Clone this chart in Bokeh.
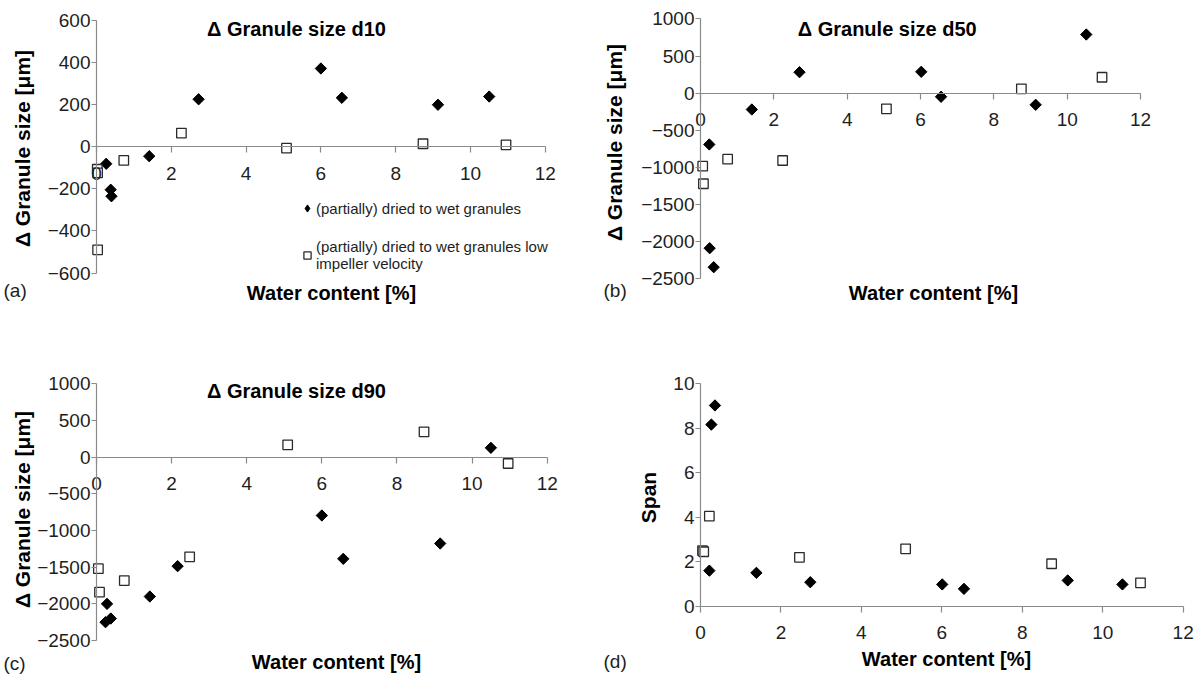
import math
from bokeh.plotting import figure
from bokeh.models import Range1d, FixedTicker, Label, Legend, LegendItem
from bokeh.layouts import column, row
from bokeh.embed import file_html
from bokeh.resources import INLINE

# ---------------- data ----------------
x_ticks = [0, 2, 4, 6, 8, 10, 12]

a_dia_x = [0.26, 0.38, 0.40, 1.41, 2.73, 6.0, 6.56, 9.13, 10.5]
a_dia_y = [-82, -205, -236, -46, 224, 370, 231, 198, 237]
a_sq_x = [0.02, 0.03, 0.03, 0.73, 2.27, 5.08, 8.73, 10.95]
a_sq_y = [-108, -125, -490, -66, 63, -8, 13, 8]

b_dia_x = [0.24, 0.25, 0.36, 1.40, 2.70, 6.02, 6.56, 9.14, 10.52]
b_dia_y = [-690, -2086, -2342, -219, 283, 288, -48, -156, 790]
b_sq_x = [0.06, 0.08, 0.74, 2.24, 5.07, 8.75, 10.95]
b_sq_y = [-982, -1219, -888, -906, -210, 59, 215]

c_dia_x = [0.28, 0.24, 0.38, 1.42, 2.16, 6.0, 6.57, 9.15, 10.5]
c_dia_y = [-2000, -2250, -2200, -1900, -1486, -795, -1386, -1177, 128]
c_sq_x = [0.05, 0.08, 0.74, 2.48, 5.09, 8.72, 10.96]
c_sq_y = [-1520, -1841, -1682, -1359, 169, 346, -86]

d_dia_x = [0.36, 0.27, 0.22, 1.39, 2.73, 6.01, 6.55, 9.13, 10.49]
d_dia_y = [9.03, 8.17, 1.6, 1.5, 1.08, 0.98, 0.78, 1.16, 0.98]
d_sq_x = [0.22, 0.05, 0.08, 2.46, 5.10, 8.73, 10.94]
d_sq_y = [4.05, 2.5, 2.45, 2.2, 2.58, 1.91, 1.05]

legend_dia = "(partially) dried to wet granules"
legend_sq = "(partially) dried to wet granules low\nimpeller velocity"

FONT = "Liberation Sans"
AXIS_COL = "#8a8a8a"
TXT_COL = "#1e1e1e"


def make_panel(W, H, x0, xs, y0, ys, ymin, ymax, ystep,
               dia_x, dia_y, sq_x, sq_y, tag, tag_pos, title, title_pos,
               xlab_pos, ylab, ylab_pos, legend=None):
    # the frame fills the whole figure; data -> pixel mapping given by x0, xs, y0, ys
    xr = Range1d((0 - x0) / xs, (W - x0) / xs)
    yr = Range1d((y0 - H) / ys, (y0 - 0) / ys)
    p = figure(width=W, height=H, x_range=xr, y_range=yr,
               output_backend="svg", toolbar_location=None,
               min_border_left=0, min_border_right=0,
               min_border_top=0, min_border_bottom=0,
               title=None)
    p.outline_line_color = None
    p.xgrid.visible = False
    p.ygrid.visible = False
    p.background_fill_color = "white"
    p.border_fill_color = "white"

    def dx(px):
        return (px - x0) / xs

    def dy(py):
        return (y0 - py) / ys

    # axes crossing at the origin
    p.xaxis.fixed_location = 0
    p.yaxis.fixed_location = 0
    p.xaxis.bounds = (0, 12)
    p.yaxis.bounds = (ymin, ymax)
    p.xaxis.ticker = FixedTicker(ticks=x_ticks)
    yt = []
    v = ymin
    while v <= ymax + 1e-9:
        yt.append(v)
        v += ystep
    p.yaxis.ticker = FixedTicker(ticks=yt)
    for ax in (p.xaxis[0], p.yaxis[0]):
        ax.axis_line_color = AXIS_COL
        ax.axis_line_width = 1.2
        ax.major_tick_line_color = AXIS_COL
        ax.major_tick_line_width = 1.2
        ax.minor_tick_line_color = None
        ax.major_tick_in = 0
        ax.major_label_text_font = FONT
        ax.major_label_text_font_size = "19px"
        ax.major_label_text_color = TXT_COL
    p.xaxis.major_tick_out = 6
    p.xaxis.major_label_standoff = 14
    p.yaxis.major_tick_out = 5
    p.yaxis.major_label_standoff = 1

    # legend swatch for the filled diamonds (hidden underneath the plotted markers)
    r_dia_key = p.scatter(dia_x, dia_y, marker="diamond", size=10,
                          fill_color="black", line_color="black")
    r_dia = p.scatter(dia_x, dia_y, marker="square", angle=math.pi / 4, size=8,
                      fill_color="black", line_color="black", line_width=1)
    r_sq = p.scatter(sq_x, sq_y, marker="square", size=9.5,
                     fill_color="white", line_color="#2a2a2a", line_width=1.3)

    # texts
    p.add_layout(Label(x=dx(tag_pos[0]), y=dy(tag_pos[1]), text=tag,
                       text_font=FONT, text_font_size="19px", text_color=TXT_COL,
                       text_align="left", text_baseline="middle"))
    if title:
        p.add_layout(Label(x=dx(title_pos[0]), y=dy(title_pos[1]), text=title,
                           text_font=FONT, text_font_size="20px", text_font_style="bold",
                           text_color="black", text_align="center", text_baseline="middle"))
    p.add_layout(Label(x=dx(xlab_pos[0]), y=dy(xlab_pos[1]), text="Water content [%]",
                       text_font=FONT, text_font_size="20px", text_font_style="bold",
                       text_color="black", text_align="center", text_baseline="middle"))
    p.add_layout(Label(x=dx(ylab_pos[0]), y=dy(ylab_pos[1]), text=ylab, angle=math.pi / 2,
                       text_font=FONT, text_font_size="21px", text_font_style="bold",
                       text_color="black", text_align="center", text_baseline="middle"))

    if legend is not None:
        lx, ly = legend
        lg = Legend(items=[LegendItem(label=legend_dia, renderers=[r_dia_key]),
                           LegendItem(label=legend_sq, renderers=[r_sq])],
                    location=(lx, H - ly))
        lg.padding = 0
        lg.margin = 0
        lg.spacing = 21
        lg.border_line_color = None
        lg.background_fill_alpha = 0
        lg.glyph_width = 18
        lg.glyph_height = 18
        lg.label_standoff = 0
        lg.label_height = 14
        lg.label_text_font = FONT
        lg.label_text_font_size = "15px"
        lg.label_text_color = TXT_COL
        lg.label_text_line_height = 1.15
        p.add_layout(lg)
    return p


YL = "\u0394 Granule size [\u03bcm]"

pa = make_panel(600, 337, 96, 37.4, 146, 126.5 / 600, -600, 600, 200,
                a_dia_x, a_dia_y, a_sq_x, a_sq_y,
                "(a)", (3, 290), "\u0394 Granule size d10", (296, 28),
                (331, 292), YL, (22, 148), legend=(298, 272))
pb = make_panel(600, 337, 100, 36.67, 92.7, 74.3 / 1000, -2500, 1000, 500,
                b_dia_x, b_dia_y, b_sq_x, b_sq_y,
                "(b)", (3, 290), "\u0394 Granule size d50", (286.7, 28),
                (333, 292), YL, (14, 142))
pc = make_panel(600, 338, 96, 37.56, 119.7, 73.33 / 1000, -2500, 1000, 500,
                c_dia_x, c_dia_y, c_sq_x, c_sq_y,
                "(c)", (3, 326), "\u0394 Granule size d90", (296, 53.7),
                (336, 324.7), YL, (22, 172))
pd_ = make_panel(600, 338, 100, 40.22, 268.7, 22.23, 0, 10, 2,
                 d_dia_x, d_dia_y, d_sq_x, d_sq_y,
                 "(d)", (3, 324), None, None,
                 (346, 321.3), "Span", (48, 160))

layout = column(row(pa, pb), row(pc, pd_))
open("out.html", "w").write(file_html(layout, INLINE))
